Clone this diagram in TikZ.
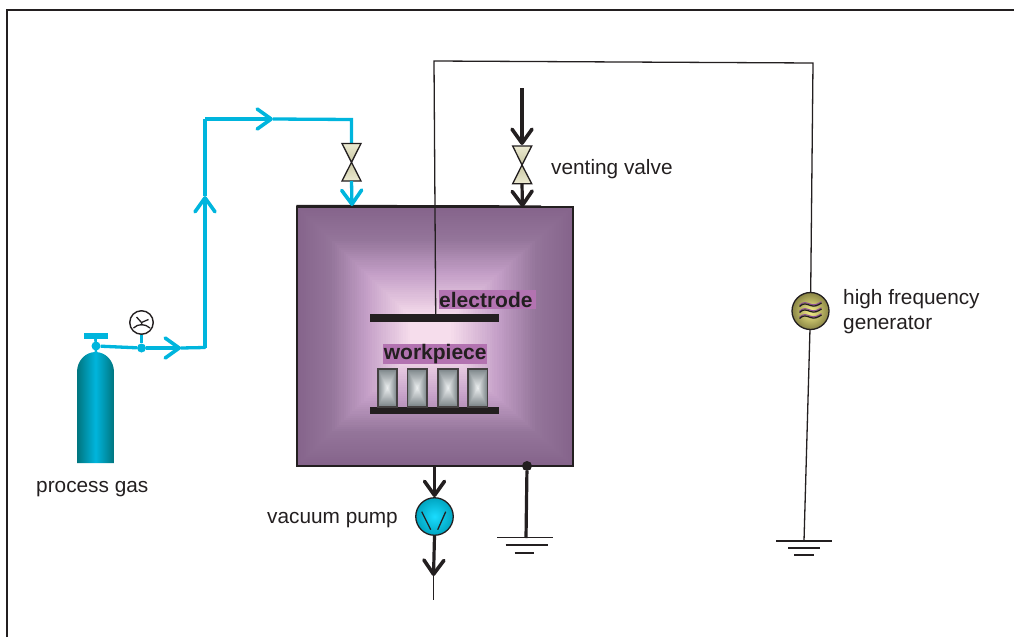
\documentclass[tikz,border=0pt]{standalone}
\usepackage{fontspec}
\setmainfont{Liberation Sans}
\usetikzlibrary{arrows.meta}
\definecolor{ink}{HTML}{231F20}
\definecolor{gas}{HTML}{00B5DD}
\definecolor{gasdark}{HTML}{00757F}
\definecolor{chamberedge}{HTML}{85648B}
\definecolor{chamberlow}{HTML}{94759A}
\definecolor{chambermid}{HTML}{C5A0C8}
\definecolor{chambercore}{HTML}{F6DDEC}
\definecolor{labelbg}{HTML}{B373B1}
\definecolor{wpedge}{HTML}{7B8488}
\definecolor{wpcore}{HTML}{ECEFF0}
\definecolor{valvelight}{HTML}{EDEBD2}
\definecolor{valvedark}{HTML}{C9C7A3}
\definecolor{wavepurple}{HTML}{8E4E9A}
\definecolor{genlight}{HTML}{F6F08A}
\definecolor{gendark}{HTML}{8A8545}
\newcommand{\nestrect}[7]{% x1 y1 x2 y2 (outer), cx cy (core centre), shade template
  \foreach \k in {0,...,60}{
    \pgfmathsetmacro{\f}{\k/60}
    \pgfmathsetmacro{\xa}{#1+(#5-#1)*\f}
    \pgfmathsetmacro{\ya}{#2+(#6-#2)*\f}
    \pgfmathsetmacro{\xb}{#3+(#5-#3)*\f}
    \pgfmathsetmacro{\yb}{#4+(#6-#4)*\f}
    #7
  }}
\tikzset{
  x=1pt,y=-1pt,
  barb/.style={-{Straight Barb[length=14pt,width=20pt,line width=3.6pt,round]}},
  gasline/.style={draw=gas,line width=3.3pt},
  gasthin/.style={draw=gas,line width=2.6pt},
  blackline/.style={draw=ink,line width=3.2pt},
  wire/.style={draw=ink,line width=1.3pt},
  gnd/.style={draw=ink,line width=1.4pt},
  txt/.style={inner sep=0pt,anchor=west,text=ink,font=\fontsize{20.8}{25}\selectfont,align=left},
  tag/.style={inner sep=0pt,fill=labelbg,text=ink,font=\fontsize{21}{24}\selectfont\bfseries},
  valvetop/.style={draw=ink,line width=1.3pt,top color=valvelight,bottom color=valvedark},
  valvebot/.style={draw=ink,line width=1.3pt,top color=valvedark,bottom color=valvelight},
  bar/.style={fill=ink,draw=none,minimum height=7.5pt,minimum width=129pt,inner sep=0pt},
  dot/.style={circle,fill=#1,draw=none,inner sep=0pt,minimum size=9pt},
}
\begin{document}
\begin{tikzpicture}
\useasboundingbox (0,0) rectangle (1014,637);
% frame
\draw[draw=ink,line width=1.8pt] (7,637) -- (7,10) -- (1014,10);

% chamber
\nestrect{297}{207}{573}{466}{430}{335}{%
  \ifdim\f pt<0.25pt
    \pgfmathsetmacro{\pp}{\f/0.25*100}
    \colorlet{cc}{chamberlow!\pp!chamberedge}
  \else\ifdim\f pt<0.52pt
    \pgfmathsetmacro{\pp}{(\f-0.25)/0.27*100}
    \colorlet{cc}{chambermid!\pp!chamberlow}
  \else\ifdim\f pt<0.85pt
    \pgfmathsetmacro{\pp}{(\f-0.52)/0.33*100}
    \colorlet{cc}{chambercore!\pp!chambermid}
  \else
    \colorlet{cc}{chambercore}
  \fi\fi\fi
  \fill[cc] (\xa,\ya) rectangle (\xb,\yb);}
\node[draw=ink,line width=1.2pt,fill=none,inner sep=0pt,minimum width=276pt,minimum height=259pt] (chamber) at (435,336.5) {};
\coordinate (lidend) at (541,206);
\draw[wire] (chamber.north west) ++(0,-1) coordinate (lidstart) -- (lidend);

% process gas cylinder
\path[left color=gasdark,right color=gasdark,middle color=gas] (77,463) -- (77,372) arc[start angle=180,end angle=360,x radius=18.5,y radius=20] -- (114,463) -- cycle;
\node[fill=gas,inner sep=0pt,minimum width=24pt,minimum height=6pt] (handle) at (95.5,336) {};
\node[dot=gas] (neck) at (96,346) {};
\coordinate (cyltop) at (96,353);
\draw[gasthin] (handle.south) -- (cyltop);
\node[dot=gas] (tee) at (141.5,348) {};
\node[circle,draw=ink,line width=1.4pt,fill=white,inner sep=0pt,minimum width=23.5pt] (gauge) at (141.5,322.5) {};
\draw[draw=ink,line width=1.3pt] (gauge.center) -- ++(-5,-5.5) (gauge.center) -- ++(7,-3) (gauge.center) -- ++(0.5,3)
  (133.5,328) .. controls (138,323.5) and (145,323.5) .. (150,328);
\draw[gasthin] (gauge) -- (tee);

% gas line
\coordinate (a1) at (181,348);
\coordinate (c1) at (205,347.5);
\coordinate (a2) at (205,196);
\coordinate (c2) at (205,119);
\coordinate (a3) at (273,119);
\coordinate (c3) at (351.5,119.5);
\draw[gasline] (neck) -- (tee);
\draw[gasline,barb] (tee) -- (a1);
\draw[gasline,line cap=round] (a1) -- (c1);
\draw[gasline,barb] (c1) -- (a2);
\draw[gasline] (a2) -- (c2);
\draw[gasline,barb] (c2) -- (a3);
\draw[gasline] (a3) -- (c3) -- (351.5,145);

% gas valve
\coordinate (gv) at (351.5,162.3);
\draw[valvetop] (gv) -- (342,143.5) -- (361,143.5) -- cycle;
\draw[valvebot] (gv) -- (342,181) -- (361,181) -- cycle;
\coordinate (gvout) at (351.5,181);
\coordinate (gvin) at (352,206);
\draw[gasline,barb] (gvout) -- (gvin);

% venting
\coordinate (vtop) at (522,88);
\coordinate (vin) at (522,145);
\draw[blackline,barb] (vtop) -- (vin);
\coordinate (vv) at (522,165);
\draw[valvetop] (vv) -- (512.7,146) -- (531.7,146) -- cycle;
\draw[valvebot] (vv) -- (512.7,183.7) -- (531.7,183.7) -- cycle;
\coordinate (vout) at (522,184);
\coordinate (vend) at (522.5,207);
\draw[blackline,barb] (vout) -- (vend);

% electrode and workpieces
\node[bar] (electrode) at (434.5,318) {};
\node[bar] (plate) at (434.5,410.5) {};
\coordinate (w0) at (435.7,314);
\coordinate (w1) at (434,61);
\coordinate (w2) at (813,63);
\node[tag,minimum height=19pt,anchor=west,text width=97pt,align=left] (elabel) at (439,299.5) {electrode};
\node[tag,minimum width=104pt,minimum height=19.5pt,anchor=west,align=center] (wlabel) at (383,354) {workpiece};
\foreach \xl/\xr in {378/397,407.5/427,438/458,468/487.5}{
  \pgfmathsetmacro{\xm}{(\xl+\xr)/2}
  \nestrect{\xl}{369}{\xr}{407}{\xm}{388}{%
    \pgfmathsetmacro{\pp}{100*\f}
    \colorlet{cc}{wpcore!\pp!wpedge}
    \fill[cc] (\xa,\ya) rectangle (\xb,\yb);}
  \draw[draw=ink!85!white,line width=1.3pt,fill=none] (\xl,369) rectangle (\xr,407);
}

% high frequency generator
\node[circle,draw=ink,line width=1.3pt,inner color=genlight,outer color=gendark,inner sep=0pt,minimum width=37pt] (gen) at (810.5,311) {};
\foreach \dy in {-6,0,6}{
  \begin{scope}[shift={(gen.center)},yshift=-\dy pt]
    \draw[draw=wavepurple,line width=1pt] (-11,0.2) .. controls (-7,-3.8) and (-4,-2.3) .. (0,-0.8) .. controls (4,0.7) and (7,-0.8) .. (11,-3.3);
    \draw[draw=ink,line width=1.3pt] (-11,1.5) .. controls (-7,-2.5) and (-4,-1) .. (0,0.5) .. controls (4,2) and (7,0.5) .. (11,-2);
  \end{scope}
}
\draw[wire] (w0) -- (w1) -- (w2) -- (gen);
\coordinate (g2) at (804,541);
\draw[wire] (gen) -- (g2);

% ground generator
\coordinate (g2l) at (776,541); \coordinate (g2r) at (832,541);
\coordinate (g2bl) at (788,548); \coordinate (g2br) at (820,548);
\coordinate (g2cl) at (794,555); \coordinate (g2cr) at (814,555);
\draw[gnd] (g2l) -- (g2r) (g2bl) -- (g2br) (g2cl) -- (g2cr);

% vacuum pump
\node[circle,draw=ink,line width=1.3pt,inner color=cyan!85!blue!90!white,outer color=gas!70!teal,inner sep=0pt,minimum width=37.5pt] (pump) at (434.5,516.5) {};
\draw[draw=ink,line width=1.3pt] (421.7,511.7) -- (430.7,529.7) (445.7,511.7) -- (437.7,529.7);
\coordinate (pin) at (434.5,466);
\draw[blackline,barb] (pin) -- (pump.north);
\coordinate (ptip) at (433.5,576);
\draw[blackline,barb] (pump.south) -- (ptip);
\coordinate (pend) at (433.5,600);
\draw[draw=ink,line width=1.8pt] (ptip) -- (pend);

% chamber ground
\node[dot=ink,minimum size=10pt] (gdot) at (527,466) {};
\coordinate (g1) at (526,538);
\draw[blackline] (gdot) -- (g1);
\coordinate (g1l) at (497,537.7); \coordinate (g1r) at (553,537.7);
\coordinate (g1bl) at (505.5,545); \coordinate (g1br) at (548,545);
\coordinate (g1cl) at (514.7,553); \coordinate (g1cr) at (534,553);
\draw[gnd] (g1l) -- (g1r) (g1bl) -- (g1br) (g1cl) -- (g1cr);

% labels
\node[txt] (lgas) at (36,489.5) {process gas};
\node[txt] (lvent) at (551,169) {venting valve};
\node[txt] (lpump) at (267,520) {vacuum pump};
\node[txt] (lgen) at (843,312) {high frequency\\generator};
\end{tikzpicture}
\end{document}
